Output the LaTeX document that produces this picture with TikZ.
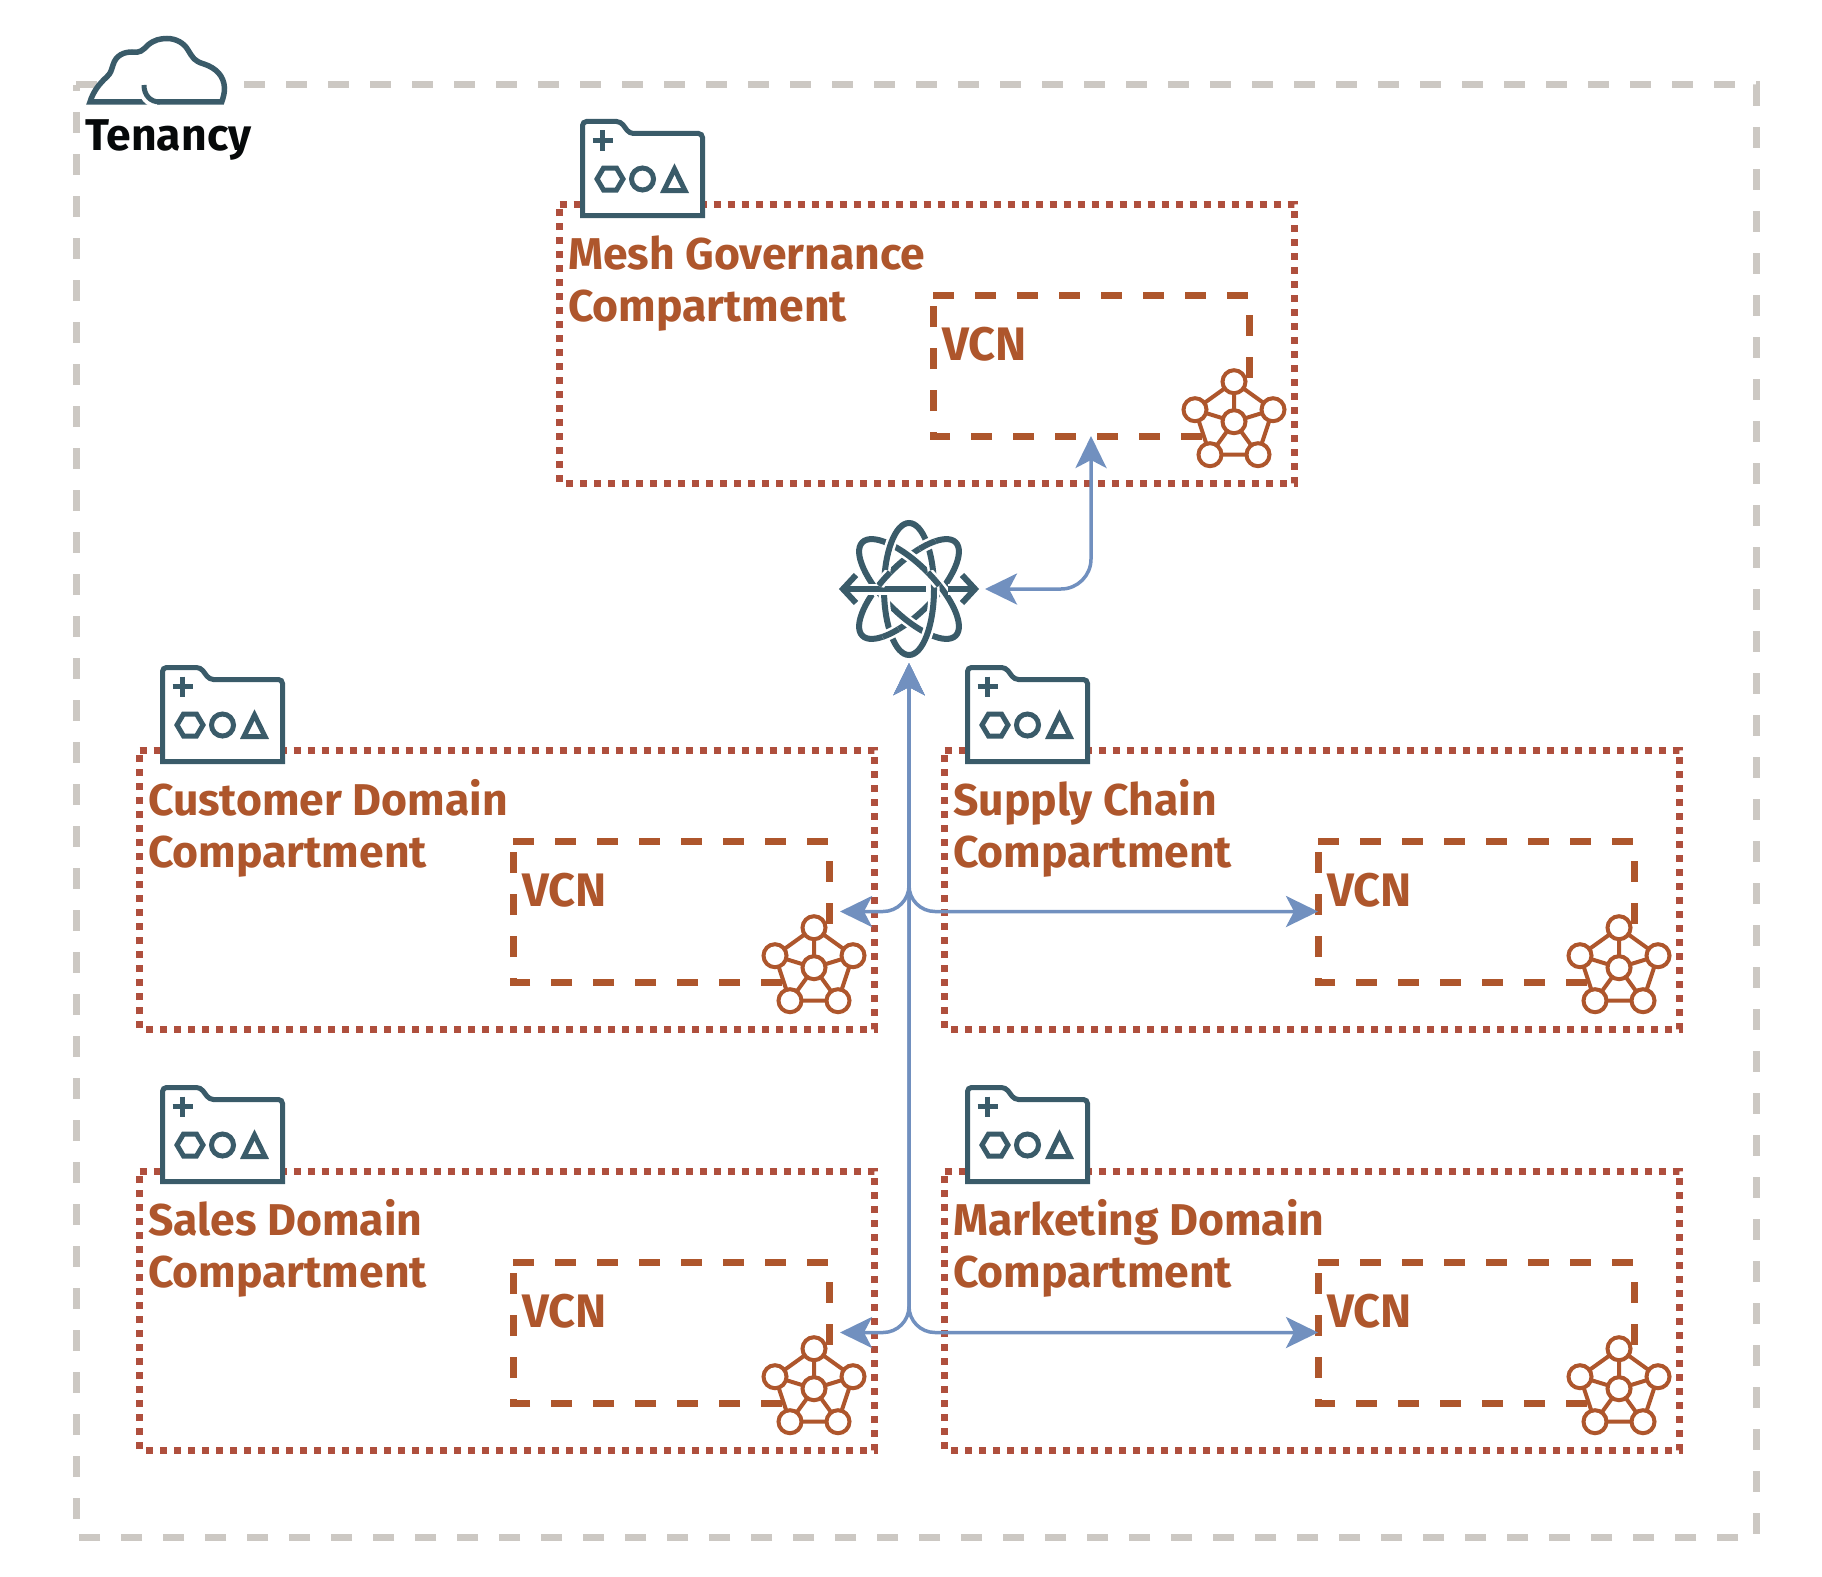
\documentclass[tikz,border=0pt]{standalone}
\usepackage{fontspec}
\setmainfont{Fira Sans}
\usetikzlibrary{arrows.meta}

\definecolor{tealink}{HTML}{3A5B69}
\definecolor{rustink}{HTML}{AE562C}
\definecolor{brickink}{HTML}{AF4F3D}
\definecolor{stoneink}{HTML}{CCC8C3}
\definecolor{linkblue}{HTML}{7190BF}

\tikzset{
  every picture/.style={line width=0.75pt},
  every pic/.style={yscale=-1},
  tenancyline/.style={draw=stoneink,line width=7pt,dash pattern=on 21pt off 21pt},
  compline/.style={draw=brickink,line width=7pt,dash pattern=on 7pt off 7pt},
  vcnline/.style={draw=rustink,line width=7pt,dash pattern=on 21pt off 21pt},
  compbox/.style={anchor=north west,inner sep=0pt,outer sep=0pt,minimum width=735pt,minimum height=279pt},
  vcnbox/.style={anchor=north west,inner sep=0pt,outer sep=0pt,minimum width=316pt,minimum height=141pt},
  comptext/.style={anchor=north west,inner sep=0.75pt,align=left,text=rustink,font=\bfseries\fontsize{44.5}{51.5}\selectfont},
  vcntext/.style={comptext,font=\bfseries\fontsize{47}{52}\selectfont},
  link/.style={draw=linkblue,line width=3.5pt,{Stealth[length=32pt,width=31pt,inset=8pt]}-{Stealth[length=32pt,width=31pt,inset=8pt]}},
  knothalo/.style={draw=white,line width=11pt},
  knotline/.style={draw=tealink,line width=6pt},
  pics/folder/.style={code={
    \draw [draw=tealink,fill=white,line width=5pt] (0,94) [rounded corners=4pt] -- (0,0) -- (38,0) -- (47,12) -- (120,12) [sharp corners] -- (120,94) -- cycle;
    \draw [draw=tealink,line width=4.5pt] (10,19) -- (30,19) (20,9) -- (20,29);
    \draw [draw=tealink,line width=5pt] (14.5,57.5) -- (21,46.5) -- (34,46.5) -- (40.5,57.5) -- (34,68.5) -- (21,68.5) -- cycle;
    \draw [draw=tealink,line width=5pt] (60,57.5) circle (11);
    \draw [draw=tealink,line width=5pt] (92,47.5) -- (102.5,69) -- (81.5,69) -- cycle;
  }},
  pics/network/.style={code={
    \path [fill=white] (0,-40) -- (39,-12) -- (24,33) -- (-24,33) -- (-39,-12) -- cycle;
    \draw [draw=rustink,line width=4pt] (0,-40) -- (39,-12) -- (24,33) -- (-24,33) -- (-39,-12) -- cycle;
    \draw [draw=rustink,line width=4pt] (0,0) -- (0,-40) (0,0) -- (39,-12) (0,0) -- (24,33) (0,0) -- (-24,33) (0,0) -- (-39,-12);
    \draw [draw=rustink,fill=white,line width=4pt] (0,0) circle (11.5) (0,-40) circle (11.5) (39,-12) circle (11.5) (24,33) circle (11.5) (-24,33) circle (11.5) (-39,-12) circle (11.5);
  }},
}

\begin{document}
\begin{tikzpicture}[x=1pt,y=1pt,yscale=-1,xscale=1]
    \useasboundingbox (0,0) rectangle (1822,1576);

    %Tenancy frame
    \node (tenancy) [anchor=north west,inner sep=0pt,outer sep=0pt,minimum width=1680pt,minimum height=1452pt] at (76.3,85) {};
    \draw [tenancyline] (tenancy.north west) -- (tenancy.north east) -- (tenancy.south east) -- (tenancy.south west) -- cycle;

    %Cloud
    \draw [draw=tealink,fill=white,line width=5.5pt] (90,102) .. controls (93,92) and (99,84) .. (106.7,77) .. controls (111,73) and (111,71) .. (113,65) .. controls (116,55) and (124,52) .. (132,52) .. controls (140,53) and (142,51) .. (148,45) .. controls (154,40) and (160,38.5) .. (167,38.5) .. controls (176,38.5) and (184,43) .. (188,50) .. controls (193,58) and (194,61) .. (204,64) .. controls (216,68) and (224,76) .. (224.5,88) .. controls (224.5,93) and (223.5,97) .. (221.7,102) -- cycle;
    \draw [draw=white,line width=5.5pt] (140.5,85) .. controls (140.5,97) and (148,105) .. (157,105);
    \draw [draw=tealink,line width=5pt] (144,85) .. controls (144,95) and (150,102) .. (160,102);
    % Text Node
    \node (tenancytext) [anchor=north west,inner sep=0.75pt,align=left,text=black!90!tealink,font=\bfseries\fontsize{44.5}{51.5}\selectfont] at (84,119) {Tenancy};

    %Mesh Governance Compartment
    \node (meshbox) [compbox] at (559.6,204) {};
    \draw [compline] (meshbox.north west) -- (meshbox.north east) -- (meshbox.south east) -- (meshbox.south west) -- cycle;
    \node (meshvcn) [vcnbox] at (933,295) {};
    \draw [vcnline] (meshvcn.north west) -- (meshvcn.north east) -- (meshvcn.south east) -- (meshvcn.south west) -- cycle;
    \pic at (582.5,121.5) {folder};
    \pic at (1234,421.7) {network};
    % Text Node
    \node (meshtext) [comptext] at (567,235) {Mesh Governance\\Compartment};
    % Text Node
    \node (meshvcntext) [vcntext] at (941,326) {VCN};

    %Customer Domain Compartment
    \node (customerbox) [compbox] at (139.6,750) {};
    \draw [compline] (customerbox.north west) -- (customerbox.north east) -- (customerbox.south east) -- (customerbox.south west) -- cycle;
    \node (customervcn) [vcnbox] at (513,841) {};
    \draw [vcnline] (customervcn.north west) -- (customervcn.north east) -- (customervcn.south east) -- (customervcn.south west) -- cycle;
    \pic at (162.5,667.5) {folder};
    \pic at (814,967.7) {network};
    % Text Node
    \node (customertext) [comptext] at (147,778.5) {Customer Domain\\Compartment};
    % Text Node
    \node (customervcntext) [vcntext] at (521,872) {VCN};

    %Supply Chain Compartment
    \node (supplybox) [compbox] at (944.6,750) {};
    \draw [compline] (supplybox.north west) -- (supplybox.north east) -- (supplybox.south east) -- (supplybox.south west) -- cycle;
    \node (supplyvcn) [vcnbox] at (1318,841) {};
    \draw [vcnline] (supplyvcn.north west) -- (supplyvcn.north east) -- (supplyvcn.south east) -- (supplyvcn.south west) -- cycle;
    \pic at (967.5,667.5) {folder};
    \pic at (1619,967.7) {network};
    % Text Node
    \node (supplytext) [comptext] at (952,778.5) {Supply Chain\\Compartment};
    % Text Node
    \node (supplyvcntext) [vcntext] at (1326,872) {VCN};

    %Sales Domain Compartment
    \node (salesbox) [compbox] at (139.6,1171) {};
    \draw [compline] (salesbox.north west) -- (salesbox.north east) -- (salesbox.south east) -- (salesbox.south west) -- cycle;
    \node (salesvcn) [vcnbox] at (513,1262) {};
    \draw [vcnline] (salesvcn.north west) -- (salesvcn.north east) -- (salesvcn.south east) -- (salesvcn.south west) -- cycle;
    \pic at (162.5,1087.5) {folder};
    \pic at (814,1388.7) {network};
    % Text Node
    \node (salestext) [comptext] at (147,1198.5) {Sales Domain\\Compartment};
    % Text Node
    \node (salesvcntext) [vcntext] at (521,1292.5) {VCN};

    %Marketing Domain Compartment
    \node (marketingbox) [compbox] at (944.6,1171) {};
    \draw [compline] (marketingbox.north west) -- (marketingbox.north east) -- (marketingbox.south east) -- (marketingbox.south west) -- cycle;
    \node (marketingvcn) [vcnbox] at (1318,1262) {};
    \draw [vcnline] (marketingvcn.north west) -- (marketingvcn.north east) -- (marketingvcn.south east) -- (marketingvcn.south west) -- cycle;
    \pic at (967.5,1087.5) {folder};
    \pic at (1619,1388.7) {network};
    % Text Node
    \node (marketingtext) [comptext] at (952,1198.5) {Marketing Domain\\Compartment};
    % Text Node
    \node (marketingvcntext) [vcntext] at (1326,1292.5) {VCN};

    %Service mesh knot
    \node (mesh) [inner sep=0pt,outer sep=0pt,minimum width=152pt,minimum height=148pt] at (909,589) {};
    \begin{scope}[shift={(909,589)}]
      \draw [knothalo,rotate=45] (0,0) ellipse [x radius=25,y radius=66];
      \draw [knotline,rotate=45] (0,0) ellipse [x radius=25,y radius=66];
      \draw [knothalo,rotate=-45] (0,0) ellipse [x radius=25,y radius=66];
      \draw [knotline,rotate=-45] (0,0) ellipse [x radius=25,y radius=66];
      \draw [knothalo] (0,0) ellipse [x radius=25,y radius=66];
      \draw [knotline] (0,0) ellipse [x radius=25,y radius=66];
      %Arrow through the knot
      \draw [knothalo] (-62,0) -- (17,0) (39,0) -- (62,0);
      \draw [knotline] (-65,0) -- (17,0) (39,0) -- (65,0);
      \draw [knotline] (-53,-14) -- (-66,0) -- (-53,14) (53,-14) -- (66,0) -- (53,14);
      %Crossings that go the other way
      \begin{scope}
        \clip (18.4,-44.3) circle (9);
        \draw [knothalo,rotate=45] (0,0) ellipse [x radius=25,y radius=66];
        \draw [knotline,rotate=45] (0,0) ellipse [x radius=25,y radius=66];
      \end{scope}
      \begin{scope}
        \clip (-24.7,-10.2) circle (9);
        \draw [knothalo,rotate=45] (0,0) ellipse [x radius=25,y radius=66];
        \draw [knotline,rotate=45] (0,0) ellipse [x radius=25,y radius=66];
      \end{scope}
      \begin{scope}
        \clip (-18.4,44.3) circle (9);
        \draw [knothalo,rotate=45] (0,0) ellipse [x radius=25,y radius=66];
        \draw [knotline,rotate=45] (0,0) ellipse [x radius=25,y radius=66];
      \end{scope}
      \begin{scope}
        \clip (24.7,-10.2) circle (9);
        \draw [knothalo,rotate=-45] (0,0) ellipse [x radius=25,y radius=66];
        \draw [knotline,rotate=-45] (0,0) ellipse [x radius=25,y radius=66];
      \end{scope}
    \end{scope}

    %Links
    \draw [link,rounded corners=30pt] (mesh.east) -| (meshvcn.south);
    \draw [link,rounded corners=26pt] (mesh.south) |- ([xshift=11pt]customervcn.east);
    \draw [link,rounded corners=26pt] (mesh.south) |- (supplyvcn.west);
    \draw [link,rounded corners=26pt] (mesh.south) |- ([xshift=11pt]salesvcn.east);
    \draw [link,rounded corners=26pt] (mesh.south) |- (marketingvcn.west);
\end{tikzpicture}
\end{document}
